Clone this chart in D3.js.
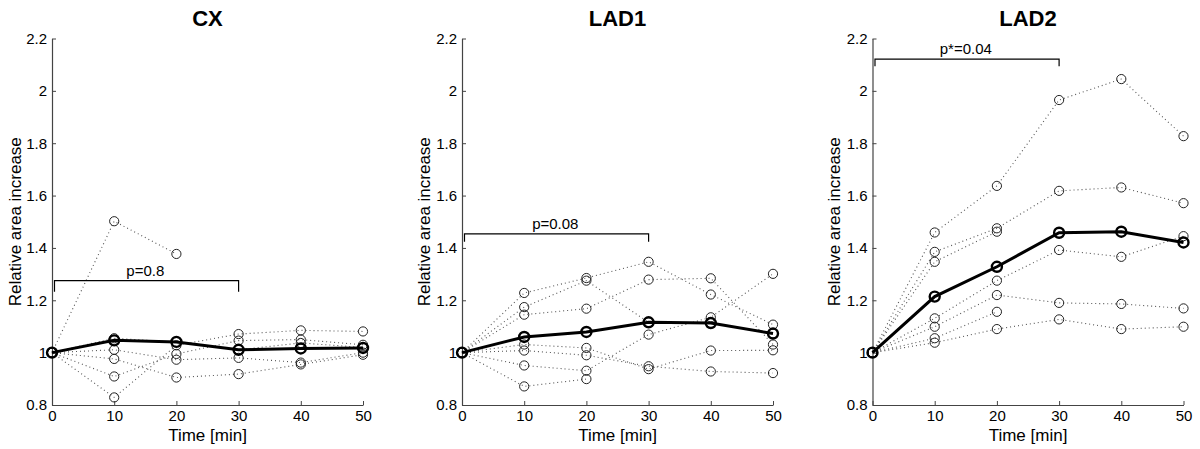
<!DOCTYPE html>
<html>
<head>
<meta charset="utf-8">
<script src="https://cdn.jsdelivr.net/npm/d3@7"></script>
<style>
  html, body { margin: 0; padding: 0; background: #fff; }
  svg { display: block; }
  text { font-family: "Liberation Sans", Arial, sans-serif; fill: #000; }
</style>
</head>
<body>
<svg id="chart" width="1200" height="449"></svg>
<script>
// ---------- DATA ----------
const times = [0, 10, 20, 30, 40, 50];
const yTicks = [0.8, 1.0, 1.2, 1.4, 1.6, 1.8, 2.0, 2.2];
const xTicks = [0, 10, 20, 30, 40, 50];
const panelTitles = ["CX", "LAD1", "LAD2"];
const pLabels = ["p=0.8", "p=0.08", "p*=0.04"];
const bracketLevels = [1.275, 1.454, 2.121];
const bracketEnds = [0.4, 30];

const cxSeries = [
  [1, 1.502, 1.377, null, null, null],
  [1, 0.829, 1.028, 1.071, 1.085, 1.081],
  [1, 0.909, 0.995, 1.046, 1.050, 1.030],
  [1, 0.976, 0.905, 0.918, 0.955, 0.992],
  [1, 1.011, 0.973, 0.980, 0.962, 1.000],
  [1, 1.055, 1.040, 1.011, 1.037, 1.020]
];
const cxMean = [1, 1.047, 1.041, 1.011, 1.016, 1.018];

const lad1Series = [
  [1, 1.228, 1.285, 1.347, 1.222, 1.107],
  [1, 1.174, 1.275, 1.116, 1.113, 1.073],
  [1, 1.145, 1.168, 1.279, 1.284, 1.031],
  [1, 1.031, 1.018, 0.937, 1.008, 1.009],
  [1, 1.008, 0.990, 0.948, 0.928, 0.922],
  [1, 0.951, 0.931, 1.069, 1.135, 1.301],
  [1, 0.871, 0.899, null, null, null]
];
const lad1Mean = [1, 1.060, 1.079, 1.116, 1.113, 1.073];

const lad2Series = [
  [1, 1.459, 1.637, 1.965, 2.045, 1.827],
  [1, 1.385, 1.475, 1.618, 1.631, 1.571],
  [1, 1.347, 1.462, null, null, null],
  [1, 1.131, 1.275, 1.392, 1.366, 1.445],
  [1, 1.099, 1.220, 1.190, 1.186, 1.169],
  [1, 1.055, 1.156, null, null, null],
  [1, 1.038, 1.090, 1.127, 1.090, 1.099]
];
const lad2Mean = [1, 1.214, 1.328, 1.458, 1.462, 1.421];

const allSeries = [cxSeries, lad1Series, lad2Series];
const allMeans = [cxMean, lad1Mean, lad2Mean];

// ---------- LAYOUT ----------
const panelX = [[52, 363], [462, 773], [872.5, 1183.5]];
const plotTop = 38.5, plotBottom = 405;
const yLabelX = [15, 424, 834];
const bracketDrop = [11, 8, 7];

const svg = d3.select("#chart");
const axisColor = "#444";

panelTitles.forEach((title, i) => {
  const x = d3.scaleLinear().domain([0, 50]).range(panelX[i]);
  const y = d3.scaleLinear().domain([0.8, 2.2]).range([plotBottom, plotTop]);
  const g = svg.append("g");

  // axes
  const yAxis = d3.axisLeft(y).tickValues(yTicks).tickSizeInner(-4).tickSizeOuter(0)
    .tickPadding(5).tickFormat(d3.format("~g"));
  const gy = g.append("g").attr("transform", `translate(${panelX[i][0]},0)`).call(yAxis);
  const xAxis = d3.axisBottom(x).tickValues(xTicks).tickSizeInner(-4).tickSizeOuter(0)
    .tickPadding(5);
  const gx = g.append("g").attr("transform", `translate(0,${plotBottom})`).call(xAxis);
  [gx, gy].forEach(a => {
    a.select(".domain").attr("stroke", axisColor).attr("stroke-width", 1.2);
    a.selectAll(".tick line").attr("stroke", axisColor);
    a.selectAll(".tick text").style("font-size", "15px")
      .style("font-family", "'Liberation Sans', Arial, sans-serif").attr("fill", "#000");
  });

  // individual series (dotted)
  const line = d3.line().defined(d => d[1] != null).x(d => x(d[0])).y(d => y(d[1]));
  allSeries[i].forEach(s => {
    const pts = times.map((t, k) => [t, s[k]]);
    g.append("path").attr("d", line(pts)).attr("fill", "none")
      .attr("stroke", "#555").attr("stroke-width", 1.1).attr("stroke-dasharray", "1,3");
  });
  allSeries[i].forEach(s => {
    const pts = times.map((t, k) => [t, s[k]]).filter(d => d[1] != null);
    g.selectAll(null).data(pts).enter().append("circle")
      .attr("cx", d => x(d[0])).attr("cy", d => y(d[1])).attr("r", 4.6)
      .attr("fill", "none").attr("stroke", "#222").attr("stroke-width", 1);
  });

  // mean line
  const mpts = times.map((t, k) => [t, allMeans[i][k]]);
  g.append("path").attr("d", line(mpts)).attr("fill", "none")
    .attr("stroke", "#000").attr("stroke-width", 3);
  g.selectAll(null).data(mpts).enter().append("circle")
    .attr("cx", d => x(d[0])).attr("cy", d => y(d[1])).attr("r", 5)
    .attr("fill", "none").attr("stroke", "#000").attr("stroke-width", 2.4);

  // bracket
  const by = y(bracketLevels[i]);
  const drop = bracketDrop[i];
  g.append("path")
    .attr("d", `M${x(bracketEnds[0])},${by + drop}V${by}H${x(bracketEnds[1])}V${by + drop}`)
    .attr("fill", "none").attr("stroke", "#000").attr("stroke-width", 1.2);
  g.append("text").attr("x", x(15)).attr("y", by - 5).attr("text-anchor", "middle")
    .style("font-size", "15px").text(pLabels[i]);

  // titles and labels
  const cx = (panelX[i][0] + panelX[i][1]) / 2;
  g.append("text").attr("x", cx).attr("y", 26).attr("text-anchor", "middle")
    .style("font-size", "22px").style("font-weight", "bold").text(title);
  g.append("text").attr("x", cx).attr("y", 441).attr("text-anchor", "middle")
    .style("font-size", "17px").text("Time [min]");
  g.append("text").attr("transform", `translate(${yLabelX[i]},${(plotTop + plotBottom) / 2}) rotate(-90)`)
    .attr("text-anchor", "middle").attr("dy", "0.35em")
    .style("font-size", "17px").text("Relative area increase");
});
</script>
</body>
</html>
